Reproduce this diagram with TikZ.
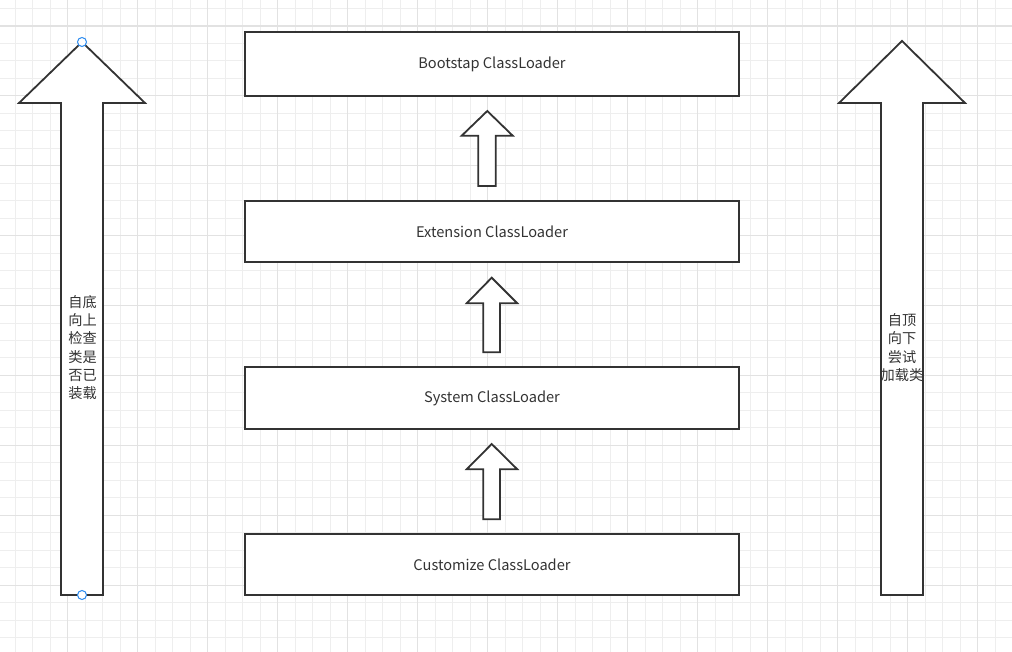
\documentclass[tikz,border=0pt]{standalone}
\usepackage{fontspec}
\setmainfont{Noto Sans CJK SC}
\definecolor{ln}{HTML}{333333}
\definecolor{txt}{HTML}{333333}
\definecolor{gminor}{HTML}{EEEEEE}
\definecolor{gmajor}{HTML}{E2E2E2}
\definecolor{sel}{HTML}{2A8AF0}
\begin{document}
\begin{tikzpicture}[x=1pt,y=-1pt,
  arrowshape/.style={draw=ln, line width=1.8pt, fill=white, line join=miter},
  loader/.style={draw=ln, line width=1.8pt, fill=white, minimum width=494pt, inner sep=0pt,
    font=\fontsize{14.6}{17}\selectfont, text=txt},
  vlabel/.style={align=center, inner sep=0pt, font=\fontsize{14.2}{18.3}\selectfont, text=txt},
  handle/.style={circle, draw=sel, fill=white, line width=1pt, minimum size=9pt, inner sep=0pt},
  minorline/.style={draw=gminor, line width=0.9pt},
  majorline/.style={draw=gmajor, line width=1.1pt}]
\useasboundingbox (0,0) rectangle (1012,652);
\fill[white] (0,0) rectangle (1012,652);
% grid
\foreach \i in {0,...,57} \draw[minorline] ({15+17.5*\i},0) -- ({15+17.5*\i},652);
\foreach \j in {0,...,37} \draw[minorline] (0,{8.5+17.47*\j}) -- (1012,{8.5+17.47*\j});
\foreach \i in {0,...,14} \draw[majorline] ({-2.5+70*\i},0) -- ({-2.5+70*\i},652);
\foreach \j in {0,...,9} \draw[majorline] (0,{26+69.9*\j}) -- (1012,{26+69.9*\j});
% left big arrow
\draw[arrowshape] (82,42) -- (145,103) -- (103,103) -- (103,595) -- (61,595) -- (61,103) -- (19,103) -- cycle;
% right big arrow
\draw[arrowshape] (902,41) -- (965,103) -- (923,103) -- (923,595) -- (881,595) -- (881,103) -- (839,103) -- cycle;
% loader boxes
\node[loader, minimum height=64pt] (boot) at (492,64.4) {Bootstap ClassLoader};
\node[loader, minimum height=61pt] (ext) at (492,231.7) {Extension ClassLoader};
\node[loader, minimum height=62pt] (sys) at (492,398) {System ClassLoader};
\node[loader, minimum height=61pt] (cust) at (492,564.5) {Customize ClassLoader};
% small arrows
\draw[arrowshape] (487.3,111) -- (512.7,135.7) -- (495.7,135.7) -- (495.7,186) -- (478.3,186) -- (478.3,135.7) -- (461.7,135.7) -- cycle;
\draw[arrowshape] (491.7,277.7) -- (517.3,303.3) -- (500,303.3) -- (500,352.3) -- (483.3,352.3) -- (483.3,303.3) -- (466.7,303.3) -- cycle;
\draw[arrowshape] (491.7,444) -- (517.3,469.3) -- (500,469.3) -- (500,519.3) -- (483.3,519.3) -- (483.3,469.3) -- (466.7,469.3) -- cycle;
% labels
\node[vlabel] (up) at (82.5,347.5) {自底\\向上\\检查\\类是\\否已\\装载};
\node[vlabel] (down) at (902,347.5) {自顶\\向下\\尝试\\加载类};
% selection handles
\node[handle] (htop) at (82,42) {};
\node[handle] (hbot) at (82,595) {};
\end{tikzpicture}
\end{document}
